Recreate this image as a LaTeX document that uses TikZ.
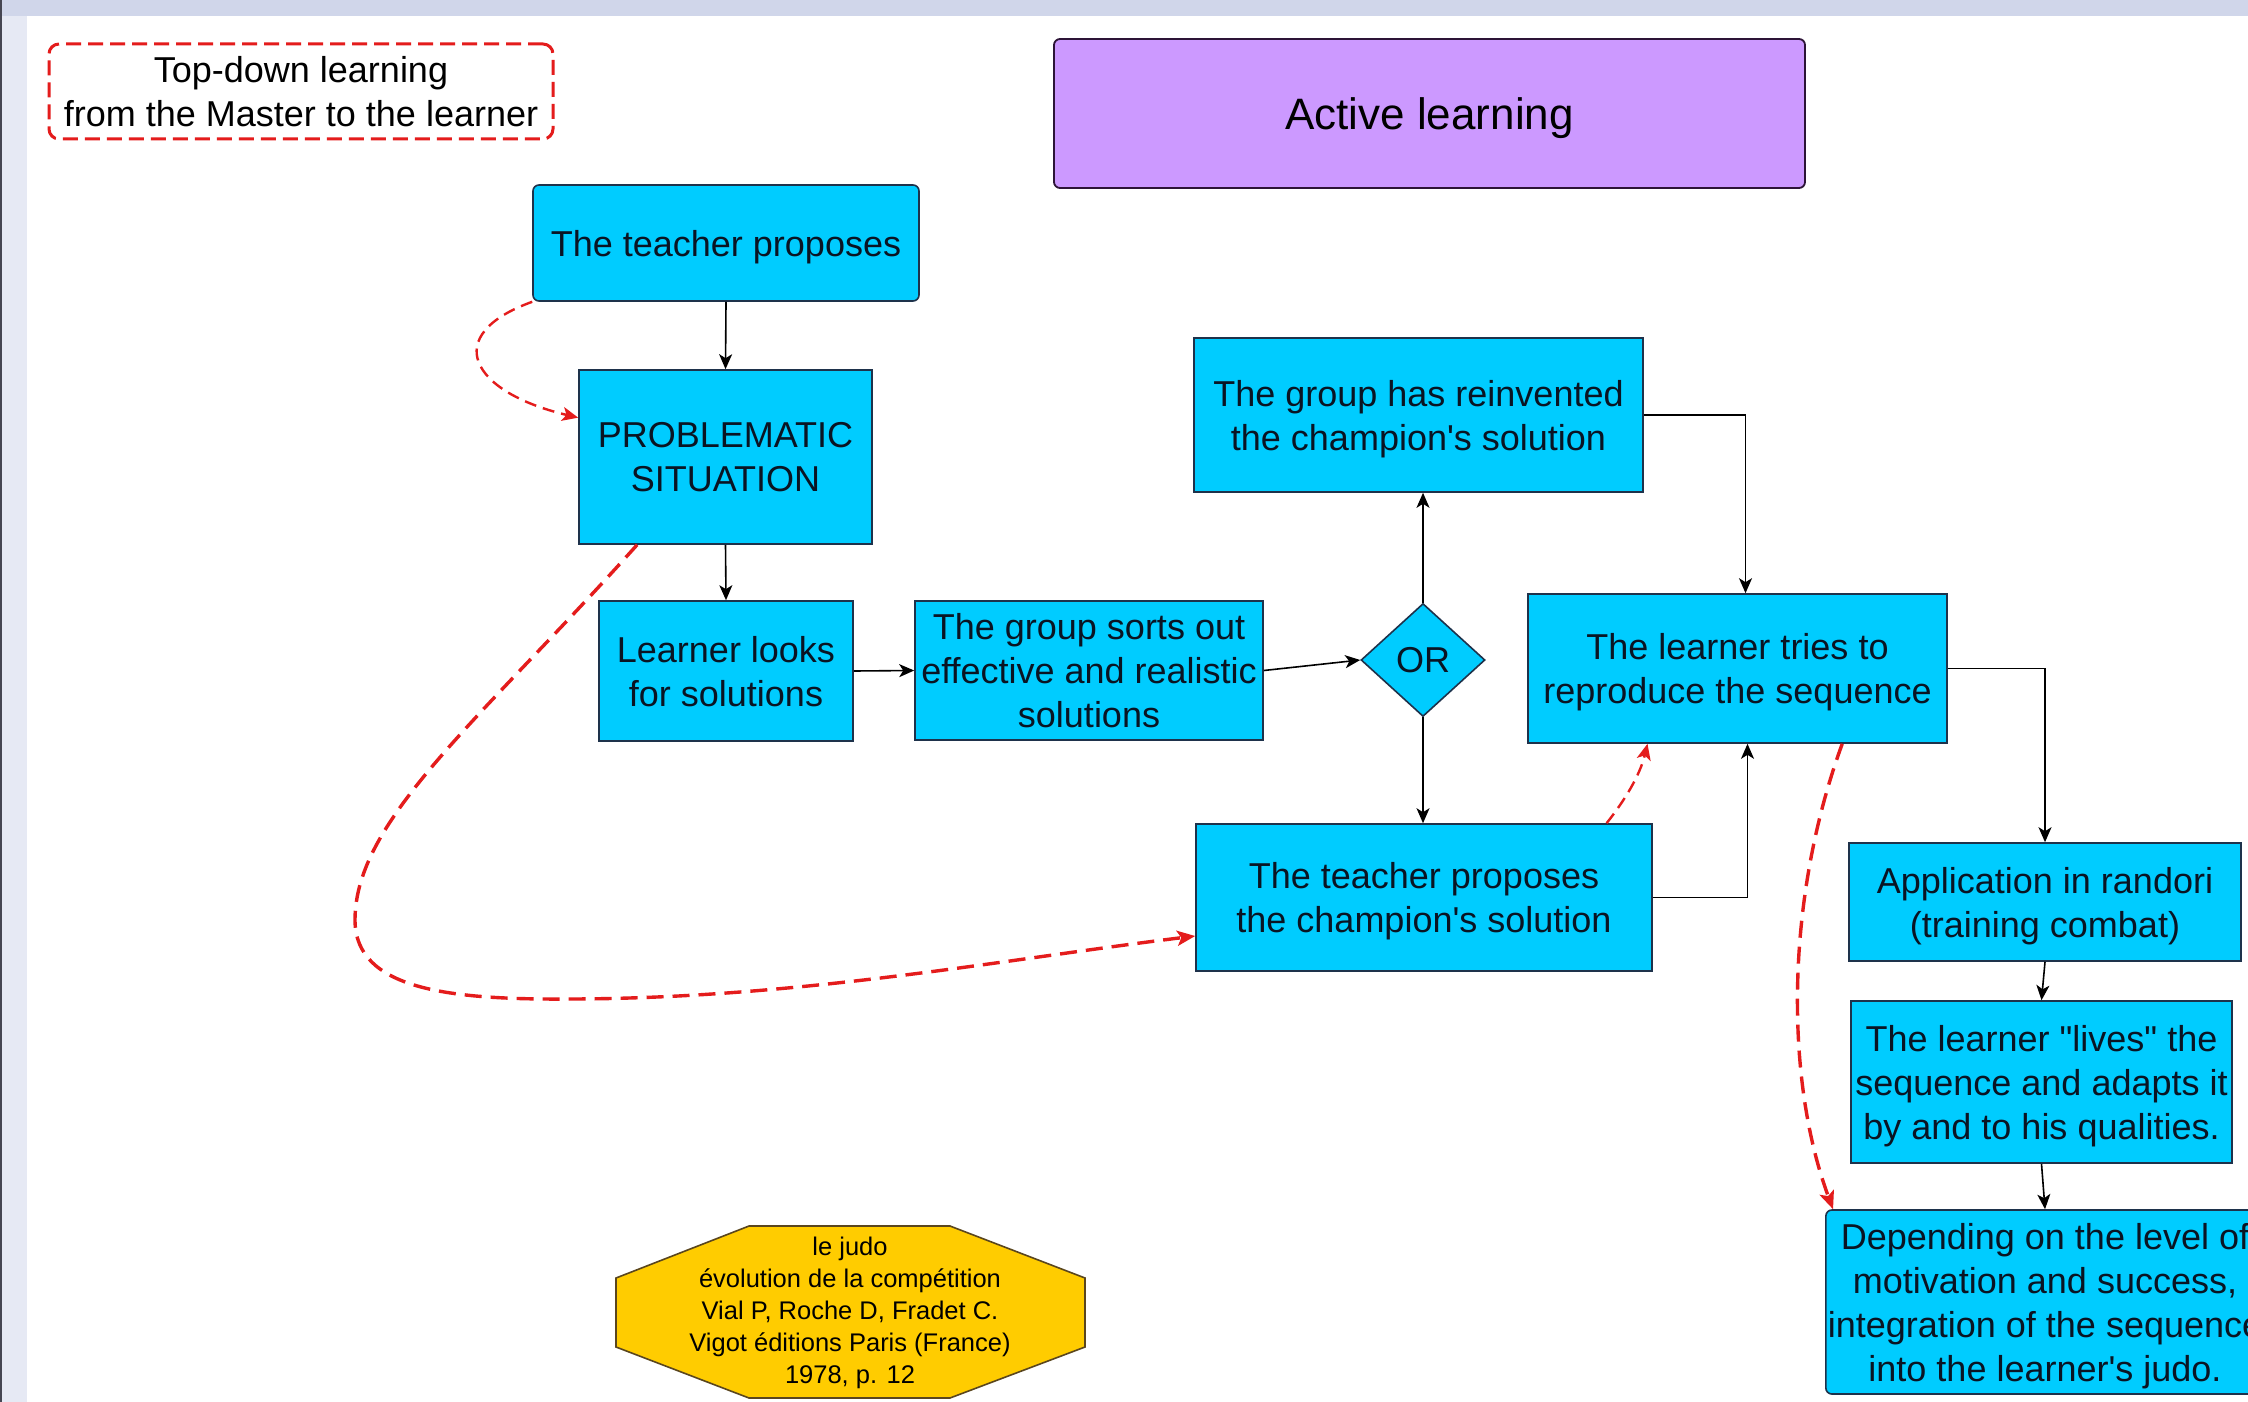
\documentclass[tikz,border=0pt]{standalone}
\usepackage{fontspec}
\setmainfont{Liberation Sans}
\usetikzlibrary{shapes.geometric,arrows.meta,calc}
\definecolor{boxblue}{RGB}{0,204,255}
\definecolor{boxedge}{RGB}{30,50,75}
\definecolor{txt}{RGB}{10,20,35}
\definecolor{lilac}{RGB}{204,153,255}
\definecolor{lilacedge}{RGB}{45,20,55}
\definecolor{gold}{RGB}{255,204,0}
\definecolor{goldedge}{RGB}{90,70,30}
\definecolor{redline}{RGB}{228,28,28}
\definecolor{topband}{RGB}{208,214,234}
\definecolor{sideband}{RGB}{230,233,244}
\definecolor{sideline}{RGB}{70,70,82}
\newcommand{\apos}{\textquotesingle}
\begin{document}
\begin{tikzpicture}[x=0.5pt,y=-0.5pt,
  bx/.style={draw=boxedge, line width=0.8pt, fill=boxblue, text=txt, align=center, inner sep=1pt, text depth=0pt, font=\fontsize{18}{22}\selectfont},
  arr/.style={draw=black, line width=0.8pt, -{Stealth[length=7.5pt,width=6.5pt,inset=2pt]}},
  redarr/.style={draw=redline, line width=1.7pt, dash pattern=on 8.5pt off 4.5pt, -{Stealth[length=9pt,width=7.5pt,inset=2pt]}},
  redthin/.style={draw=redline, line width=1.2pt, dash pattern=on 6pt off 3.5pt, -{Stealth[length=8pt,width=7pt,inset=2pt]}}]

\clip (0,0) rectangle (2248,1402);
\fill[white] (0,0) rectangle (2248,1402);
\fill[topband] (0,0) rectangle (2248,16);
\fill[sideband] (0,16) rectangle (27,1402);
\fill[sideline] (0,0) rectangle (2,1402);

\node[draw=redline, line width=1.5pt, dash pattern=on 7.5pt off 3.5pt, rounded corners=5pt, fill=white, align=center, text=black, text depth=0pt, minimum width=252pt, minimum height=47.5pt, font=\fontsize{18}{22}\selectfont] (td) at (301,91.5) {Top-down learning\\from the Master to the learner};

\node[draw=lilacedge, line width=0.9pt, fill=lilac, rounded corners=3pt, text depth=0pt, minimum width=375.5pt, minimum height=74.5pt, font=\fontsize{22}{26}\selectfont, text=black] (al) at (1429.5,113.5) {Active learning};

\node[bx, rounded corners=3pt, minimum width=193pt, minimum height=58pt] (t1) at (726,243) {The teacher proposes};
\node[bx, minimum width=146.5pt, minimum height=87pt] (ps) at (725.5,457) {PROBLEMATIC\\SITUATION};
\node[bx, minimum width=127pt, minimum height=70pt] (ll) at (726,671) {Learner looks\\for solutions};
\node[bx, minimum width=174pt, minimum height=69.5pt] (gs) at (1089,670.5) {The group sorts out\\effective and realistic\\solutions};
\node[bx, diamond, aspect=1.1, inner sep=0pt, minimum width=62pt, minimum height=56.5pt] (or) at (1423,660) {OR};
\node[bx, minimum width=224.5pt, minimum height=77pt] (gr) at (1418.5,415) {The group has reinvented\\the champion\apos s solution};
\node[bx, minimum width=209.5pt, minimum height=74.5pt] (lt) at (1737.5,668.5) {The learner tries to\\reproduce the sequence};
\node[bx, minimum width=228pt, minimum height=73.5pt] (tc) at (1424,897.5) {The teacher proposes\\the champion\apos s solution};
\node[bx, minimum width=196pt, minimum height=59pt] (ar) at (2045,902) {Application in randori\\(training combat)};
\node[bx, minimum width=190.5pt, minimum height=81pt] (lv) at (2041.5,1082) {The learner \textquotedbl lives\textquotedbl{} the\\sequence and adapts it\\by and to his qualities.};
\node[bx, rounded corners=3pt, minimum width=217pt, minimum height=92pt] (dp) at (2045,1302) {Depending on the level of\\motivation and success,\\integration of the sequence\\into the learner\apos s judo.};

\filldraw[fill=gold, draw=goldedge, line width=0.8pt] (749,1226) -- (950,1226) -- (1085,1278) -- (1085,1347) -- (950,1398) -- (749,1398) -- (616,1347) -- (616,1278) -- cycle;
\node[text=black, align=center, font=\fontsize{12.75}{16}\selectfont] (cite) at (850,1313) {le judo\\évolution de la compétition\\Vial P, Roche D, Fradet C.\\Vigot éditions Paris (France)\\1978, p. 12};

\draw[arr] (t1.south) -- (ps.north);
\draw[arr] (ps.south) -- (ll.north);
\draw[arr] (ll.east) -- (gs.west);
\draw[arr] (gs.east) -- (or.west);
\draw[arr] (or.north) -- (or.north |- gr.south);
\draw[arr] (or.south) -- (or.south |- tc.north);
\coordinate (ltin) at ($(lt.north)+(8,0)$);
\draw[arr] (gr.east) -| (ltin);
\coordinate (ltin2) at ($(lt.south)+(10,0)$);
\draw[arr] (tc.east) -| (ltin2);
\draw[arr] (lt.east) -| (ar.north);
\draw[arr] (ar.south) -- (lv.north);
\draw[arr] (lv.south) -- (dp.north);

\draw[redthin] (t1.south west) .. controls (440,335) and (470,392) .. ($(ps.north west)!0.276!(ps.south west)$);
\draw[redarr] ($(ps.south west)!0.2!(ps.south east)$) .. controls (480,720) and (355,820) .. (355,920) .. controls (355,990) and (450,1000) .. (573,999) .. controls (800,998) and (1000,960) .. ($(tc.west)+(0,38.5)$);
\draw[redthin] ($(tc.north west)!0.899!(tc.north east)$) .. controls (1625,800) and (1640,775) .. ($(lt.south west)!0.286!(lt.south east)$);
\draw[redarr] ($(lt.south west)!0.749!(lt.south east)$) .. controls (1785,900) and (1785,1080) .. ($(dp.north west)+(8,0)$);
\end{tikzpicture}
\end{document}
